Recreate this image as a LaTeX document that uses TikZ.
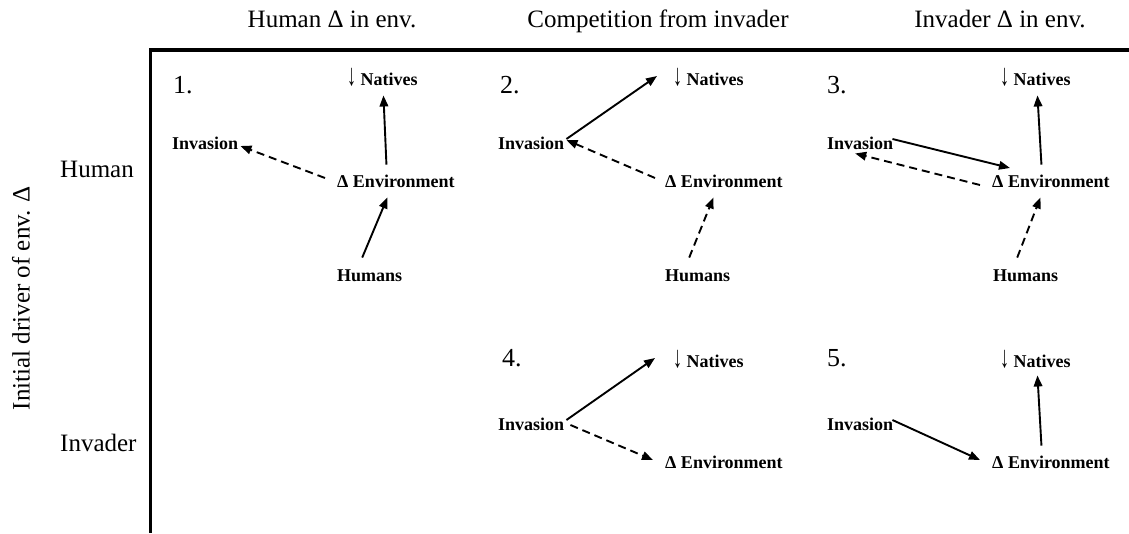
\documentclass[tikz,border=0pt]{standalone}
\usepackage{fontspec}
\usepackage{graphicx}
\setmainfont{Liberation Serif}
\usetikzlibrary{arrows.meta,calc}
\newcommand{\dnarr}{\raisebox{-0.5pt}{\scalebox{1}[1.7]{↓}}}
\tikzset{
  lab/.style={font=\fontsize{18}{20}\selectfont\bfseries, inner sep=0pt, anchor=west, text height=11.5pt, text depth=1pt},
  head/.style={font=\fontsize{25}{30}\selectfont, inner sep=0pt, anchor=base},
  rowlab/.style={font=\fontsize{25}{30}\selectfont, inner sep=0pt, anchor=base west},
  num/.style={font=\fontsize{26}{30}\selectfont, inner sep=0pt, anchor=base west},
  arr/.style={line width=1.9pt, -{Triangle[length=11pt,width=8.5pt]}},
  dsh/.style={arr, dash pattern=on 8pt off 5pt},
  frame/.style={line width=3.5pt}
}
\begin{document}
\begin{tikzpicture}[x=1pt,y=-1pt]
\fill[white] (0,0) rectangle (1129,533);
\useasboundingbox (0,0) rectangle (1129,533);

% headers
\node[head] (hA) at (332,27) {Human Δ in env.};
\node[head] (hB) at (658,27) {Competition from invader};
\node[head] (hC) at (1000,27) {Invader Δ in env.};
\node[rowlab] (rA) at (60,177) {Human};
\node[rowlab] (rB) at (60,451) {Invader};
\node[font=\fontsize{25}{30}\selectfont, inner sep=0pt, rotate=90] (rV) at (21,298) {Initial driver of env. Δ};

% frame
\coordinate (fc) at (150.5,50);
\coordinate (fr) at (1129,50);
\coordinate (fb) at (150.5,533);
\draw[frame] (fr) -- (fc) -- (fb);

% panel 1
\node[num] (p1) at (173,93) {1.};
\node[lab] (n1) at (347,80) {\dnarr\ Natives};
\node[lab] (i1) at (172,144) {Invasion};
\node[lab] (e1) at (337,182) {Δ Environment};
\node[lab] (h1) at (337,276) {Humans};
\draw[arr] ([shift={(-9.5,-11)}]e1.north) -- ([shift={(1,9)}]n1.south);
\draw[arr] ([shift={(-7.5,-12)}]h1.north) -- ([shift={(-8.5,9)}]e1.south);
\draw[dsh] ([shift={(-12,-4)}]e1.west) -- ([shift={(2,2)}]i1.east);

% panel 2
\node[num] (p2) at (500,93) {2.};
\node[lab] (n2) at (673,80) {\dnarr\ Natives};
\node[lab] (i2) at (498,144) {Invasion};
\node[lab] (e2) at (665,182) {Δ Environment};
\node[lab] (h2) at (665,276) {Humans};
\draw[arr] ([shift={(2,-5)}]i2.east) -- ([shift={(-16,-4)}]n2.west);
\draw[dsh] ([shift={(-10,-4)}]e2.west) -- ([shift={(2,-4)}]i2.east);
\draw[dsh] ([shift={(-8.5,-12)}]h2.north) -- ([shift={(-10.5,9)}]e2.south);

% panel 3
\node[num] (p3) at (827,93) {3.};
\node[lab] (n3) at (1000,80) {\dnarr\ Natives};
\node[lab] (i3) at (827,144) {Invasion};
\node[lab] (e3) at (992,182) {Δ Environment};
\node[lab] (h3) at (993,276) {Humans};
\draw[arr] ([shift={(-9.5,-11)}]e3.north) -- ([shift={(2,9)}]n3.south);
\draw[arr] ([shift={(-1,-5)}]i3.east) -- ([shift={(18,-14)}]e3.west);
\draw[dsh] ([shift={(-12,3)}]e3.west) -- ([shift={(-5,3)}]i3.south);
\draw[dsh] ([shift={(-8.5,-12)}]h3.north) -- ([shift={(-10.5,9)}]e3.south);

% panel 4
\node[num] (p4) at (502,366) {4.};
\node[lab] (n4) at (673,362) {\dnarr\ Natives};
\node[lab] (i4) at (498,425) {Invasion};
\node[lab] (e4) at (665,463) {Δ Environment};
\draw[arr] ([shift={(2,-5)}]i4.east) -- ([shift={(-18,-4)}]n4.west);
\draw[dsh] ([shift={(6,0)}]i4.east) -- ([shift={(-12,-3)}]e4.west);

% panel 5
\node[num] (p5) at (827,366) {5.};
\node[lab] (n5) at (1000,362) {\dnarr\ Natives};
\node[lab] (i5) at (827,425) {Invasion};
\node[lab] (e5) at (992,463) {Δ Environment};
\draw[arr] ([shift={(-1,-5)}]i5.east) -- ([shift={(-12,-3)}]e5.west);
\draw[arr] ([shift={(-9.5,-11)}]e5.north) -- ([shift={(2,7)}]n5.south);
\end{tikzpicture}
\end{document}
